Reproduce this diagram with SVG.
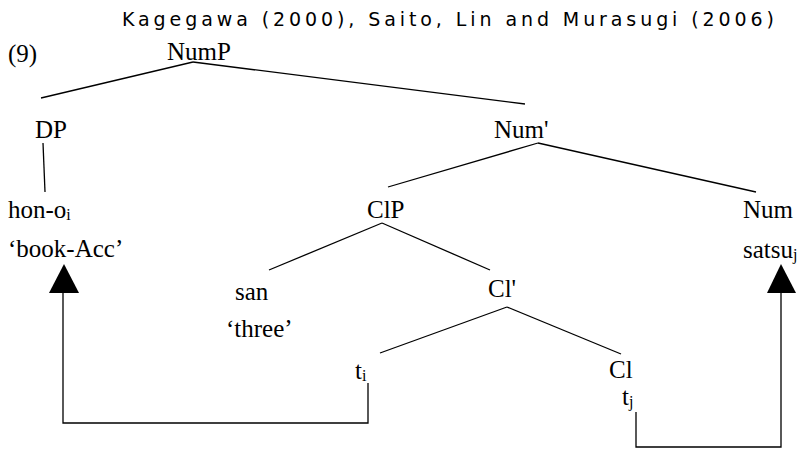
<svg xmlns="http://www.w3.org/2000/svg" width="803" height="452" viewBox="0 0 803 452">
<style>
.t{font-family:"Liberation Serif","Times New Roman",serif;font-size:25px;fill:#000}
.s{font-size:16px}
.title{font-family:"DejaVu Sans","Liberation Sans",sans-serif;font-size:19px;fill:#000}
.e{stroke:#000;stroke-width:1.3;fill:none}
.ah{fill:#000;stroke:none}
</style>
<rect width="803" height="452" fill="#fff"/>
<text id="title" class="title" x="122" y="26" textLength="652" lengthAdjust="spacing">Kagegawa (2000), Saito, Lin and Murasugi (2006)</text>
<text id="label9" class="t" x="8" y="62">(9)</text>
<g id="connectors">
<line class="e" x1="193" y1="62" x2="41" y2="98"/>
<line class="e" x1="193" y1="62" x2="525" y2="104"/>
<line class="e" x1="43" y1="143" x2="45" y2="192"/>
<line class="e" x1="538" y1="143" x2="388" y2="187"/>
<line class="e" x1="538" y1="143" x2="756" y2="192"/>
<line class="e" x1="382" y1="223" x2="269" y2="270"/>
<line class="e" x1="382" y1="223" x2="490" y2="270"/>
<line class="e" x1="507" y1="307" x2="380" y2="353"/>
<line class="e" x1="507" y1="307" x2="621" y2="354"/>
<polyline class="e" points="368,383 368,423 63,423 63,292"/>
<polygon class="ah" points="64,264 49,293 79,293"/>
<polyline class="e" points="636,412 636,447 781,447 781,292"/>
<polygon class="ah" points="781,264 767,293 796,293"/>
</g>
<g id="NumP"><text class="t" x="167" y="60">NumP</text></g>
<g id="DP"><text class="t" x="35" y="138">DP</text></g>
<g id="NumBar"><text class="t" x="494" y="138">Num'</text></g>
<g id="hon"><text class="t" x="8" y="218">hon-o<tspan class="s" dy="2">i</tspan></text>
<text class="t" x="8" y="257">‘book-Acc’</text></g>
<g id="ClP"><text class="t" x="367" y="218">ClP</text></g>
<g id="Num"><text class="t" x="743" y="218">Num</text>
<text class="t" x="743" y="258">satsu<tspan class="s" dy="2">j</tspan></text></g>
<g id="san"><text class="t" x="235" y="300">san</text>
<text class="t" x="226" y="337">‘three’</text></g>
<g id="ClBar"><text class="t" x="488" y="297">Cl'</text></g>
<g id="ti"><text class="t" x="355" y="379">t<tspan class="s" dy="2">i</tspan></text></g>
<g id="Cl"><text class="t" x="609" y="378">Cl</text>
<text class="t" x="622" y="405">t<tspan class="s" dy="2">j</tspan></text></g>
</svg>
